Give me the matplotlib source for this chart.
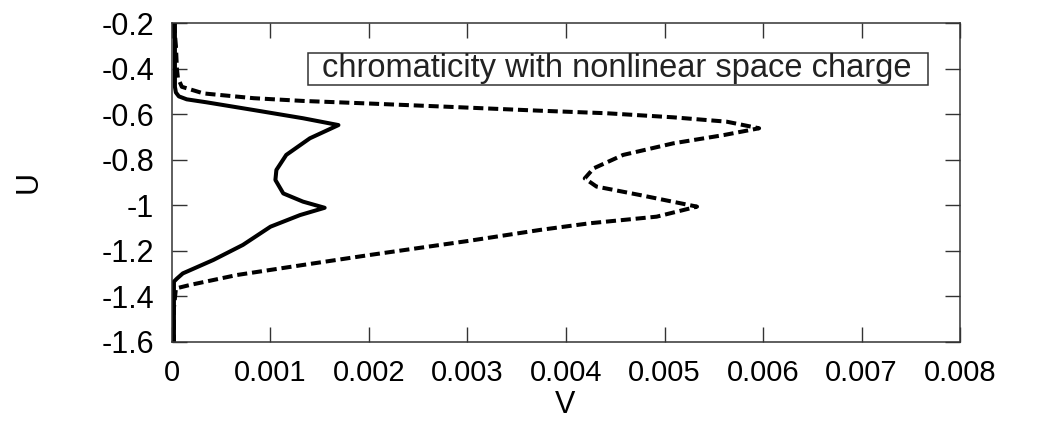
import matplotlib
matplotlib.use('Agg')
import matplotlib.pyplot as plt
from matplotlib.patches import Rectangle

# solid curve: U (vertical) and V (horizontal)
solid_u = [-0.20, -0.30, -0.40, -0.48, -0.505, -0.522, -0.535, -0.548, -0.582, -0.618, -0.648,
           -0.706, -0.779, -0.845, -0.889, -0.948, -0.984, -1.011, -1.043, -1.094,
           -1.174, -1.240, -1.299, -1.322, -1.335, -1.45, -1.60]
solid_v = [0.00003, 0.00003, 0.00003, 0.00003, 0.00004, 0.00007, 0.00015, 0.00035, 0.00083, 0.00133, 0.00169,
           0.00140, 0.00116, 0.00106, 0.00105, 0.00113, 0.00133, 0.00155, 0.00130, 0.00100,
           0.00072, 0.00042, 0.00011, 0.00005, 0.00002, 0.00002, 0.00002]

# dashed curve
dash_u = [-0.20, -0.30, -0.40, -0.44, -0.48, -0.509, -0.530, -0.542, -0.553, -0.568, -0.585,
          -0.596, -0.614, -0.633, -0.662, -0.692, -0.728, -0.779, -0.838, -0.882, -0.918,
          -0.955, -1.006, -1.050, -1.079, -1.108, -1.157, -1.218, -1.262, -1.306, -1.350,
          -1.365, -1.45, -1.60]
dash_v = [0.00002, 0.00004, 0.00005, 0.00006, 0.00010, 0.00032, 0.00083, 0.00133, 0.00198, 0.00282, 0.00374,
          0.00441, 0.00509, 0.00563, 0.00596, 0.00560, 0.00509, 0.00458, 0.00428, 0.00419, 0.00431,
          0.00475, 0.00533, 0.00492, 0.00424, 0.00374, 0.00300, 0.00201, 0.00133, 0.00066, 0.00018,
          0.00004, 0.00002, 0.00002]

x_ticks = [0, 0.001, 0.002, 0.003, 0.004, 0.005, 0.006, 0.007, 0.008]
x_labels = ['0', '0.001', '0.002', '0.003', '0.004', '0.005', '0.006', '0.007', '0.008']
y_ticks = [-1.6, -1.4, -1.2, -1.0, -0.8, -0.6, -0.4, -0.2]
y_labels = ['-1.6', '-1.4', '-1.2', '-1', '-0.8', '-0.6', '-0.4', '-0.2']
key_text = 'chromaticity with nonlinear space charge'

plt.rcParams['font.family'] = ['Liberation Sans', 'DejaVu Sans']
plt.rcParams['axes.unicode_minus'] = False

fig = plt.figure(figsize=(10.55, 4.3), dpi=100)
ax = fig.add_axes([0.163, 0.2047, 0.747, 0.7418])

ax.plot(solid_v, solid_u, color='black', lw=2.9, solid_joinstyle='round')
ax.plot(dash_v, dash_u, color='black', lw=2.9, linestyle=(0, (2.5, 1.2)),
        dash_capstyle='butt', dash_joinstyle='round')

ax.set_xlim(0, 0.008)
ax.set_ylim(-1.6, -0.2)
ax.set_xticks(x_ticks)
ax.set_xticklabels(x_labels, fontsize=21)
ax.set_yticks(y_ticks)
ax.set_yticklabels(y_labels, fontsize=22)
ax.tick_params(direction='in', length=11, width=1, top=True, right=True, color='#333333')
ax.tick_params(axis='x', pad=12)
ax.tick_params(axis='y', pad=13)
for s in ax.spines.values():
    s.set_linewidth(1.1)
    s.set_color('#333333')

ax.set_xlabel('V', fontsize=22, va='center')
ax.xaxis.set_label_coords(0.499, -0.197)
ax.set_ylabel('U', fontsize=22, va='center')
ax.yaxis.set_label_coords(-0.182, 0.5)

# key box
ax.add_patch(Rectangle((0.172, 0.806), 0.787, 0.1, transform=ax.transAxes,
                       fill=False, edgecolor='#333333', lw=1.1))
ax.text(0.565, 0.857, key_text, transform=ax.transAxes, ha='center', va='center',
        fontsize=23.5, color='#222222')

plt.savefig('out.png', dpi=100)
